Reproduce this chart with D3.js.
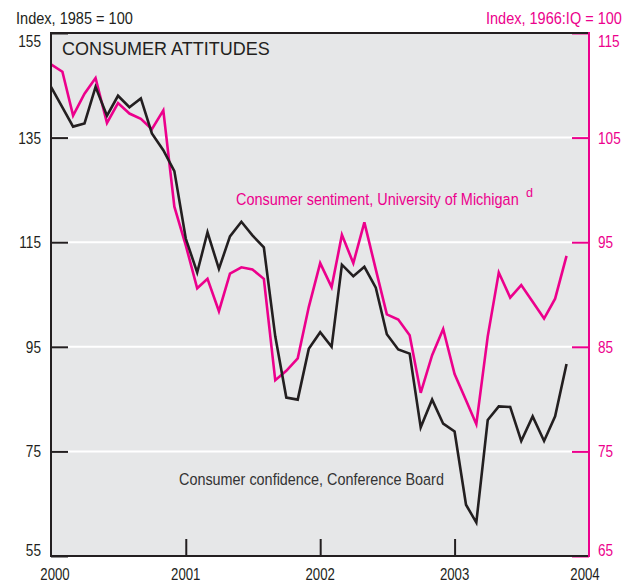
<!DOCTYPE html>
<html>
<head>
<meta charset="utf-8">
<script src="https://cdn.jsdelivr.net/npm/d3@7"></script>
<style>
  html, body { margin: 0; padding: 0; background: #fff; }
  svg { display: block; }
  .narrow { font-family: "Liberation Sans", Arial, sans-serif; }
</style>
</head>
<body>
<svg id="chart" width="634" height="584"></svg>
<script>
// ---- Data (monthly, Jan 2000 – Nov 2003) ----
const months = d3.range(0, 47).map(i => new Date(2000, i, 1));
const confidence = [
  144.7, 140.8, 137.1, 137.7, 144.7, 139.2, 143.0, 140.8, 142.5, 135.8, 132.6, 128.6,
  115.7, 109.2, 116.9, 109.9, 116.1, 118.9, 116.3, 114.0, 97.0, 85.3, 84.9, 94.6,
  97.8, 95.0, 110.7, 108.5, 110.3, 106.3, 97.4, 94.5, 93.7, 79.6, 84.9, 80.3,
  78.8, 64.8, 61.4, 81.0, 83.6, 83.5, 77.0, 81.7, 77.0, 81.7, 91.7
];
const sentiment = [
  112.0, 111.3, 107.1, 109.2, 110.7, 106.4, 108.3, 107.3, 106.8, 105.8, 107.6, 98.4,
  94.7, 90.6, 91.5, 88.4, 92.0, 92.6, 92.4, 91.5, 81.8, 82.7, 83.9, 88.8,
  93.0, 90.7, 95.7, 93.0, 96.9, 92.4, 88.1, 87.6, 86.1, 80.6, 84.2, 86.7,
  82.4, 79.9, 77.6, 86.0, 92.1, 89.7, 90.9, 89.3, 87.7, 89.6, 93.7
];
const leftTicks = [55, 75, 95, 115, 135, 155];
const rightTicks = [65, 75, 85, 95, 105, 115];
const yearTicks = [2000, 2001, 2002, 2003, 2004];

// ---- Layout ----
const PINK = "#ec008c";
const DARK = "#231f20";
const BG = "#e6e7e8";
const svg = d3.select("#chart");
const x0 = 51, x1 = 589, yTop = 33, yBot = 556;

const x = d3.scaleTime().domain([new Date(2000, 0, 1), new Date(2004, 0, 1)]).range([x0, x1]);
const yL = d3.scaleLinear().domain([55, 155]).range([yBot, yTop]);
const yR = d3.scaleLinear().domain([65, 115]).range([yBot, yTop]);

// condensed look: compress glyphs horizontally via textLength
const NARROW = 0.80;
function condense(sel) {
  sel.each(function () {
    const w = this.getComputedTextLength();
    d3.select(this).attr("textLength", w * NARROW).attr("lengthAdjust", "spacingAndGlyphs");
  });
  return sel;
}
// condensed label placed via a horizontally scaled group
function narrowLabel(px, py, str, size, color, width) {
  const g = svg.append("g");
  const t = g.append("text").attr("class", "narrow").attr("font-size", size).attr("fill", color).text(str);
  const w = t.node().getComputedTextLength();
  const k = width / w;
  g.attr("transform", `translate(${px},${py}) scale(${k},1)`);
  return g;
}

// background
svg.append("rect").attr("x", x0).attr("y", yTop).attr("width", x1 - x0).attr("height", yBot - yTop).attr("fill", BG);

// gridlines
svg.append("g").selectAll("line").data(leftTicks.filter(d => d > 55 && d < 155)).join("line")
  .attr("x1", x0).attr("x2", x1).attr("y1", d => yL(d)).attr("y2", d => yL(d))
  .attr("stroke", "#fff").attr("stroke-width", 2);

// lines
const lineGen = (scale) => d3.line().x((d, i) => x(months[i])).y(d => scale(d));
svg.append("path").datum(sentiment).attr("d", lineGen(yR))
  .attr("fill", "none").attr("stroke", PINK).attr("stroke-width", 2.6).attr("stroke-linejoin", "miter");
svg.append("path").datum(confidence).attr("d", lineGen(yL))
  .attr("fill", "none").attr("stroke", DARK).attr("stroke-width", 2.6).attr("stroke-linejoin", "miter");

// left axis
const gL = svg.append("g").attr("transform", `translate(${x0},0)`)
  .call(d3.axisRight(yL).tickValues(leftTicks).tickSize(17).tickFormat(""));
gL.select(".domain").remove();
gL.selectAll("line").attr("stroke", DARK).attr("stroke-width", 2);
svg.append("g").selectAll("text").data(leftTicks).join("text")
  .attr("class", "narrow")
  .attr("x", 41).attr("y", d => yL(d) + (d === 155 ? 8 : d === 55 ? -6 : 0))
  .attr("dy", "0.35em").attr("text-anchor", "end")
  .attr("font-size", 17).attr("fill", DARK).text(d => d).call(condense);

// right axis
const gR = svg.append("g").attr("transform", `translate(${x1},0)`)
  .call(d3.axisLeft(yR).tickValues(rightTicks).tickSize(17).tickFormat(""));
gR.select(".domain").remove();
gR.selectAll("line").attr("stroke", PINK).attr("stroke-width", 2);
svg.append("g").selectAll("text").data(rightTicks).join("text")
  .attr("class", "narrow")
  .attr("x", 598).attr("y", d => yR(d) + (d === 115 ? 8 : d === 65 ? -6 : 0))
  .attr("dy", "0.35em").attr("text-anchor", "start")
  .attr("font-size", 17).attr("fill", PINK).text(d => d).call(condense);

// bottom axis ticks
const gB = svg.append("g").attr("transform", `translate(0,${yBot})`)
  .call(d3.axisTop(x).tickValues(yearTicks.slice(1, 4).map(y => new Date(y, 0, 1))).tickSize(17).tickFormat(""));
gB.select(".domain").remove();
gB.selectAll("line").attr("stroke", DARK).attr("stroke-width", 2);
svg.append("g").selectAll("text").data(yearTicks).join("text")
  .attr("class", "narrow")
  .attr("x", d => x(new Date(d, 0, 1)) + (d === 2000 ? 4 : d === 2004 ? -4 : 0))
  .attr("y", 580).attr("text-anchor", "middle")
  .attr("font-size", 16.5).attr("fill", DARK).text(d => d).call(condense);

// frame
svg.append("line").attr("x1", x0).attr("x2", x1).attr("y1", yTop).attr("y2", yTop).attr("stroke", DARK).attr("stroke-width", 2);
svg.append("line").attr("x1", x0).attr("x2", x0).attr("y1", yTop - 1).attr("y2", yBot + 1).attr("stroke", DARK).attr("stroke-width", 2);
svg.append("line").attr("x1", x0).attr("x2", x1).attr("y1", yBot).attr("y2", yBot).attr("stroke", DARK).attr("stroke-width", 2);
svg.append("line").attr("x1", x1).attr("x2", x1).attr("y1", yTop - 1).attr("y2", yBot + 1).attr("stroke", PINK).attr("stroke-width", 2);

// titles
narrowLabel(16, 24, "Index, 1985 = 100", 17, DARK, 117);
narrowLabel(486, 24, "Index, 1966:IQ = 100", 17, PINK, 136);
svg.append("text").attr("x", 62).attr("y", 55)
  .attr("font-family", "Liberation Sans, Arial, sans-serif")
  .attr("font-size", 18).attr("fill", DARK).text("CONSUMER ATTITUDES");

narrowLabel(236, 205, "Consumer sentiment, University of Michigan", 17, PINK, 283);
narrowLabel(526, 197, "d", 12.5, PINK, 7);
narrowLabel(179, 485, "Consumer confidence, Conference Board", 17, "#333", 265);
</script>
</body>
</html>
